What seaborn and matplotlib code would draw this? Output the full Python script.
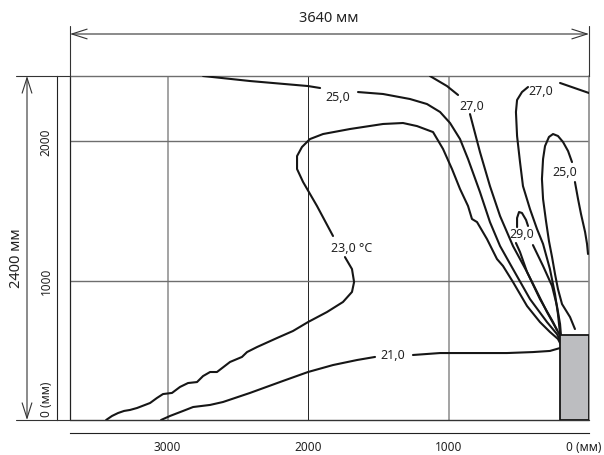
import numpy as np
import pandas as pd
import matplotlib.pyplot as plt
import seaborn as sns
from matplotlib.lines import Line2D
from matplotlib.patches import FancyArrowPatch, Rectangle
from matplotlib.transforms import ScaledTranslation

# isotherm traces: x = mm from the right wall, y = mm from the floor
t21_a_x = [3046, 2982, 2889, 2818, 2697, 2605, 2413, 2178, 2000, 1822, 1651, 1523]
t21_a_y = [0, 29, 65, 93, 108, 129, 194, 280, 344, 394, 430, 452]
t21_b_x = [1253, 1060, 826, 584, 399, 278, 206]
t21_b_y = [466, 480, 480, 480, 487, 495, 516]

t23_a_x = [3437, 3395, 3352, 3309, 3267, 3217, 3160, 3124, 3075, 3032, 2968, 2911, 2854,
           2790, 2747, 2697, 2648, 2555, 2470, 2434, 2363, 2220, 2107, 2000, 1865, 1751,
           1687, 1672, 1687, 1737]
t23_a_y = [0, 29, 50, 65, 72, 86, 108, 122, 158, 186, 194, 237, 265, 272, 315, 344, 344,
           416, 452, 487, 523, 588, 638, 702, 774, 846, 918, 989, 1082, 1168]
t23_b_x = [1822, 1936, 2035, 2078, 2078, 2043, 1986, 1893, 1701, 1466, 1324, 1224, 1110,
           1039, 975, 918, 861, 833, 797, 726, 655, 612, 541, 441, 349, 278, 221, 199]
t23_b_y = [1319, 1534, 1706, 1799, 1892, 1957, 2014, 2050, 2086, 2122, 2129, 2107, 2064,
           1943, 1799, 1656, 1534, 1441, 1419, 1297, 1154, 1104, 989, 817, 702, 631, 581, 538]

t25_a_x = [2747, 2413, 2000, 1914]
t25_a_y = [2466, 2430, 2394, 2380]
t25_b_x = [1644, 1466, 1274, 1153, 1060, 989, 918, 861, 776, 705, 633, 541, 420, 299, 228, 199]
t25_b_y = [2351, 2337, 2301, 2265, 2208, 2129, 2014, 1871, 1634, 1419, 1247, 1082, 867, 702,
           616, 559]

t27_a_x = [1132, 1011, 932]
t27_a_y = [2466, 2394, 2330]
t27_b_x = [847, 776, 705, 633, 541, 441, 349, 256, 206]
t27_b_y = [2193, 1921, 1677, 1462, 1247, 1061, 867, 702, 602]

t29_top_x = [512, 512, 498, 477, 448, 434]
t29_top_y = [1383, 1448, 1491, 1484, 1434, 1391]
t29_l_x = [520, 491, 441, 370, 299, 228]
t29_l_y = [1269, 1204, 1061, 918, 774, 645]
t29_r_x = [399, 327, 263, 228, 206, 199]
t29_r_y = [1254, 1104, 961, 817, 688, 602]

t27r_a_x = [434, 477, 512, 520, 512, 491, 470, 420, 370, 327, 278, 242, 221, 206]
t27r_a_y = [2387, 2351, 2294, 2208, 2036, 1849, 1677, 1512, 1369, 1262, 1082, 903, 760, 616]
t27r_b_x = [206, 0]
t27r_b_y = [2416, 2344]

t25r_a_x = [100, 135, 192, 221, 242, 263, 285, 306, 327, 335, 327, 313, 285, 256, 221, 185,
            149, 121]
t25r_a_y = [652, 738, 831, 939, 1047, 1168, 1283, 1426, 1584, 1728, 1871, 1964, 2029, 2050,
            2036, 1993, 1928, 1849]
t25r_b_x = [100, 78, 57, 28, 14, 7]
t25r_b_y = [1706, 1584, 1477, 1348, 1262, 1190]

label_text = ['21,0', '23,0 °C', '25,0', '27,0', '29,0', '27,0', '25,0']
label_x = [1395, 1687, 1786, 833, 477, 342, 171]
label_y = [466, 1233, 2322, 2251, 1340, 2365, 1778]

heater_w, heater_h = 206, 609
room_w, room_h = 3694, 2466
x_ticks = [3694, 3000, 2000, 1000, 0]
x_ticklabels = ['', '3000', '2000', '1000', '0 (мм)']
y_ticks = [0, 1000, 2000]
y_ticklabels = ['0 (мм)', '1000', '2000']

segments = [(t21_a_x, t21_a_y), (t21_b_x, t21_b_y), (t23_a_x, t23_a_y), (t23_b_x, t23_b_y),
            (t25_a_x, t25_a_y), (t25_b_x, t25_b_y), (t27_a_x, t27_a_y), (t27_b_x, t27_b_y),
            (t29_top_x, t29_top_y), (t29_l_x, t29_l_y), (t29_r_x, t29_r_y),
            (t27r_a_x, t27r_a_y), (t27r_b_x, t27r_b_y), (t25r_a_x, t25r_a_y),
            (t25r_b_x, t25r_b_y)]
df = pd.concat([pd.DataFrame({'x': sx, 'y': sy, 'seg': i})
                for i, (sx, sy) in enumerate(segments)], ignore_index=True)

sns.set_theme(style='white')
plt.rcParams['font.family'] = ['Noto Sans', 'DejaVu Sans']

W, H = 604, 456
fig = plt.figure(figsize=(W / 100, H / 100), dpi=100)
ax = fig.add_axes([70 / W, 35 / H, 519 / W, 344 / H])


def fpx(x, y):
    """pixel position in the picture -> figure fraction"""
    return x / W, 1 - y / H


sns.lineplot(data=df, x='x', y='y', units='seg', estimator=None, sort=False,
             color='#161616', linewidth=1.5, ax=ax, zorder=4)

# grid of the room
for gx in [3000, 1000]:
    ax.axvline(gx, color='#8a8a8a', lw=1.1, zorder=1)
ax.axvline(2000, color='#222222', lw=0.7, zorder=1)
for gy in [1000, 2000]:
    ax.axhline(gy, color='#6e6e6e', lw=1.0, zorder=1)
ax.axvline(room_w, color='#222222', lw=0.9, clip_on=False, zorder=1)
ax.axvline(0, color='#8a8a8a', lw=1.2, clip_on=False, zorder=1)
ax.axhline(room_h, color='#6e6e6e', lw=1.0, clip_on=False, zorder=1)
ax.axhline(0, color='#333333', lw=1.0, clip_on=False, zorder=1)

ax.add_patch(Rectangle((0, 0), heater_w, heater_h, facecolor='#bcbdc0',
                       edgecolor='#161616', lw=1.3, zorder=5))

for t, lx, ly in zip(label_text, label_x, label_y):
    ax.text(lx, ly, t, ha='center', va='center', fontsize=9, color='#222222', zorder=6)

ax.set_xlim(room_w, 0)
ax.set_ylim(0, room_h)
ax.set_xlabel('')
ax.set_ylabel('')
for s in ['top', 'right']:
    ax.spines[s].set_visible(False)
for s in ['left', 'bottom']:
    ax.spines[s].set_position(('outward', 9.4))
    ax.spines[s].set_color('#222222')
    ax.spines[s].set_linewidth(0.8)

ax.set_xticks(x_ticks, x_ticklabels)
ax.set_yticks(y_ticks, y_ticklabels)
ax.tick_params(axis='x', direction='in', length=5, width=0.8, color='#222222',
               pad=5, labelsize=8.5, labelcolor='#222222')
ax.tick_params(axis='y', direction='in', length=9.4, width=0.8, color='#222222',
               pad=3, labelsize=8.5, labelcolor='#222222')
for lbl in ax.get_yticklabels():
    lbl.set_rotation(90)
    lbl.set_va('center')
y0_lbl = ax.get_yticklabels()[0]
y0_lbl.set_va('bottom')
y0_lbl.set_transform(y0_lbl.get_transform() + ScaledTranslation(0, 0.04, fig.dpi_scale_trans))
x0_lbl = ax.get_xticklabels()[-1]
x0_lbl.set_transform(x0_lbl.get_transform() + ScaledTranslation(-0.05, 0, fig.dpi_scale_trans))

# dimension lines outside the room
ext = [((16, 77), (70, 77)), ((16, 421), (70, 421)), ((70, 27), (70, 77)),
       ((589, 27), (589, 77))]
for a, b in ext:
    (x0, y0), (x1, y1) = fpx(*a), fpx(*b)
    fig.add_artist(Line2D([x0, x1], [y0, y1], transform=fig.transFigure,
                          color='#333333', lw=0.8))

for a, b in [((70, 35), (589, 35)), ((27, 77), (27, 421))]:
    fig.add_artist(FancyArrowPatch(fpx(*a), fpx(*b), transform=fig.transFigure,
                                   arrowstyle='<->,head_length=11,head_width=3.5',
                                   mutation_scale=1, shrinkA=0, shrinkB=0,
                                   color='#333333', lw=0.8))

fig.text(*fpx(329, 18), '3640 мм', ha='center', va='center', fontsize=10.5, color='#222222')
fig.text(*fpx(17, 258), '2400 мм', ha='center', va='center', rotation=90,
         fontsize=10.5, color='#222222')

fig.savefig('out.png', dpi=100, facecolor='white')
